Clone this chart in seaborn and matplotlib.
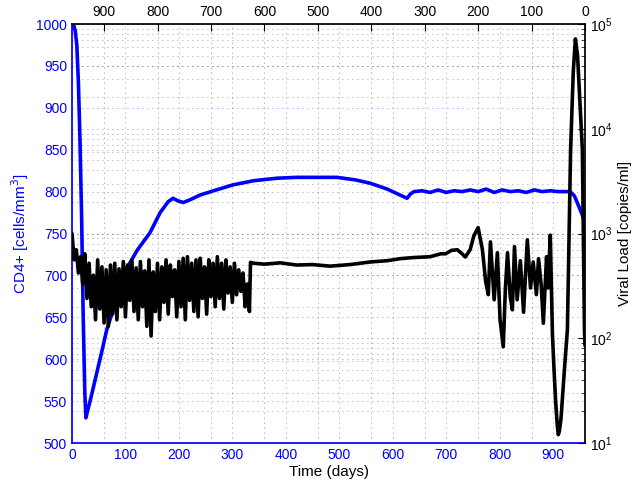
import pandas as pd
import seaborn as sns
import matplotlib.pyplot as plt
from matplotlib.ticker import LogLocator, NullFormatter

# CD4+ count (left axis)
cd4_days = [0, 3, 6, 9, 12, 15, 18, 21, 24, 26, 29, 35, 45, 55, 65, 80, 95, 103,
            122, 146, 165, 180, 189, 198, 208, 220, 240, 270, 301, 340, 384, 420,
            460, 496, 530, 558, 590, 627, 633, 640, 655, 670, 685, 700, 715, 730,
            745, 760, 775, 790, 805, 820, 835, 850, 865, 880, 895, 910, 925, 932,
            940, 948, 955, 960]
cd4_counts = [1000, 999, 992, 975, 930, 860, 770, 650, 560, 530, 538, 553, 580,
              607, 635, 665, 695, 709, 730, 751, 775, 788, 792, 789, 787, 790,
              796, 802, 808, 813, 816, 817, 817, 817, 814, 810, 803, 792, 797,
              800, 801, 799, 802, 799, 801, 800, 802, 800, 803, 799, 802, 800,
              801, 799, 802, 800, 801, 800, 800, 800, 795, 783, 772, 762]

# viral load (right axis, log)
vl_days = [0, 4, 8, 12, 16, 20, 24, 28, 32, 36, 40, 44, 48, 52, 56, 60, 64, 68,
           72, 76, 80, 84, 88, 92, 96, 100, 104, 108, 112, 116, 120, 124, 128,
           132, 136, 140, 144, 148, 152, 156, 160, 164, 168, 172, 176, 180, 184,
           188, 192, 196, 200, 204, 208, 212, 216, 220, 224, 228, 232, 236, 240,
           244, 248, 252, 256, 260, 264, 268, 272, 276, 280, 284, 288, 292, 296,
           300, 304, 308, 312, 316, 320, 324, 328, 332, 334, 340, 360, 390, 420,
           450, 483, 520, 558, 590, 614, 640, 670, 690, 699, 710, 721, 730, 736,
           745, 752, 760, 768, 774, 779, 783, 790, 796, 801, 807, 811, 815, 820,
           824, 828, 833, 839, 845, 852, 858, 863, 869, 873, 878, 882, 888, 891,
           895, 899, 902, 905, 908, 910, 912, 915, 918, 922, 927, 933, 938, 942,
           946, 950, 955, 959, 960]
vl_copies = [1000, 560, 700, 420, 600, 330, 640, 240, 520, 200, 400, 150, 560,
             190, 480, 140, 450, 130, 500, 170, 520, 150, 460, 200, 540, 160,
             500, 230, 560, 180, 470, 150, 540, 200, 440, 130, 560, 105, 430,
             180, 520, 150, 480, 220, 560, 170, 500, 250, 450, 160, 540, 200,
             580, 150, 600, 230, 520, 180, 560, 160, 580, 240, 480, 170, 560,
             250, 520, 200, 600, 240, 520, 190, 560, 270, 480, 220, 520, 260,
             450, 280, 420, 200, 330, 180, 530, 520, 510, 525, 500, 505, 488,
             505, 535, 550, 575, 590, 600, 640, 640, 690, 700, 640, 597, 700,
             950, 1137, 700, 350, 261, 832, 233, 655, 150, 83, 300, 655, 250,
             187, 750, 233, 550, 177, 870, 302, 535, 261, 575, 320, 139, 600,
             302, 964, 110, 50, 25, 15, 12, 13, 17, 28, 55, 120, 6300, 35000,
             72000, 50000, 20000, 6300, 120, 85]

cd4 = pd.DataFrame({'day': cd4_days, 'cd4': cd4_counts})
vl = pd.DataFrame({'day': vl_days, 'vl': vl_copies})

sns.set_theme(style='white')
plt.rcParams['font.family'] = ['Liberation Sans', 'DejaVu Sans']
plt.rcParams['xtick.direction'] = 'in'
plt.rcParams['ytick.direction'] = 'in'

fig = plt.figure(figsize=(6.4, 4.84), dpi=100)
rect = [0.1125, 0.0847, 0.8016, 0.8657]
ax = fig.add_axes(rect)
ax2 = fig.add_axes(rect)
ax2.patch.set_visible(False)

grid_style = dict(linestyle=(0, (1, 5)), linewidth=0.6)

# left / bottom axes (blue)
sns.lineplot(data=cd4, x='day', y='cd4', color='blue', linewidth=2.6, ax=ax)
ax.set_xlim(0, 960)
ax.set_ylim(500, 1000)
ax.set_xticks(range(0, 1000, 100))
ax.set_yticks(range(500, 1001, 50))
ax.grid(True, color='blue', alpha=0.6, **grid_style)
ax.tick_params(colors='blue', labelsize=10, length=5, width=0.8,
               top=False, right=False)
for side in ['left', 'bottom']:
    ax.spines[side].set_color('blue')
ax.spines['top'].set_visible(False)
ax.spines['right'].set_visible(False)
ax.set_xlabel('Time (days)', fontsize=11, color='black', labelpad=2)
ax.set_ylabel('CD4+ [cells/mm$^3$]', fontsize=11, color='blue', labelpad=4)

# top / right axes (black, log)
sns.lineplot(data=vl, x='day', y='vl', color='black', linewidth=2.6, ax=ax2)
ax2.set_yscale('log')
ax2.set_ylim(10, 1e5)
ax2.set_xlim(0, 960)
top_ticks = list(range(0, 1000, 100))
ax2.set_xticks([960 - t for t in top_ticks if 960 - t >= 0])
ax2.set_xticklabels([str(t) for t in top_ticks if 960 - t >= 0])
ax2.xaxis.tick_top()
ax2.yaxis.tick_right()
ax2.yaxis.set_label_position('right')
ax2.yaxis.set_major_locator(LogLocator(base=10))
ax2.yaxis.set_minor_locator(LogLocator(base=10, subs=range(2, 10)))
ax2.yaxis.set_minor_formatter(NullFormatter())
ax2.grid(True, which='major', color='black', alpha=0.6, **grid_style)
ax2.grid(True, which='minor', axis='y', color='black', alpha=0.5, **grid_style)
ax2.tick_params(colors='black', labelsize=10, length=5, width=0.8,
                bottom=False, left=False, labelbottom=False, labelleft=False)
ax2.tick_params(which='minor', length=3, width=0.6, right=True, left=False)
ax2.spines['left'].set_visible(False)
ax2.spines['bottom'].set_visible(False)
ax2.spines['top'].set_color('black')
ax2.spines['right'].set_color('black')
ax2.set_xlabel('')
ax2.set_ylabel('Viral Load [copies/ml]', fontsize=11, color='black', labelpad=4)

fig.savefig('out.png', dpi=100)
